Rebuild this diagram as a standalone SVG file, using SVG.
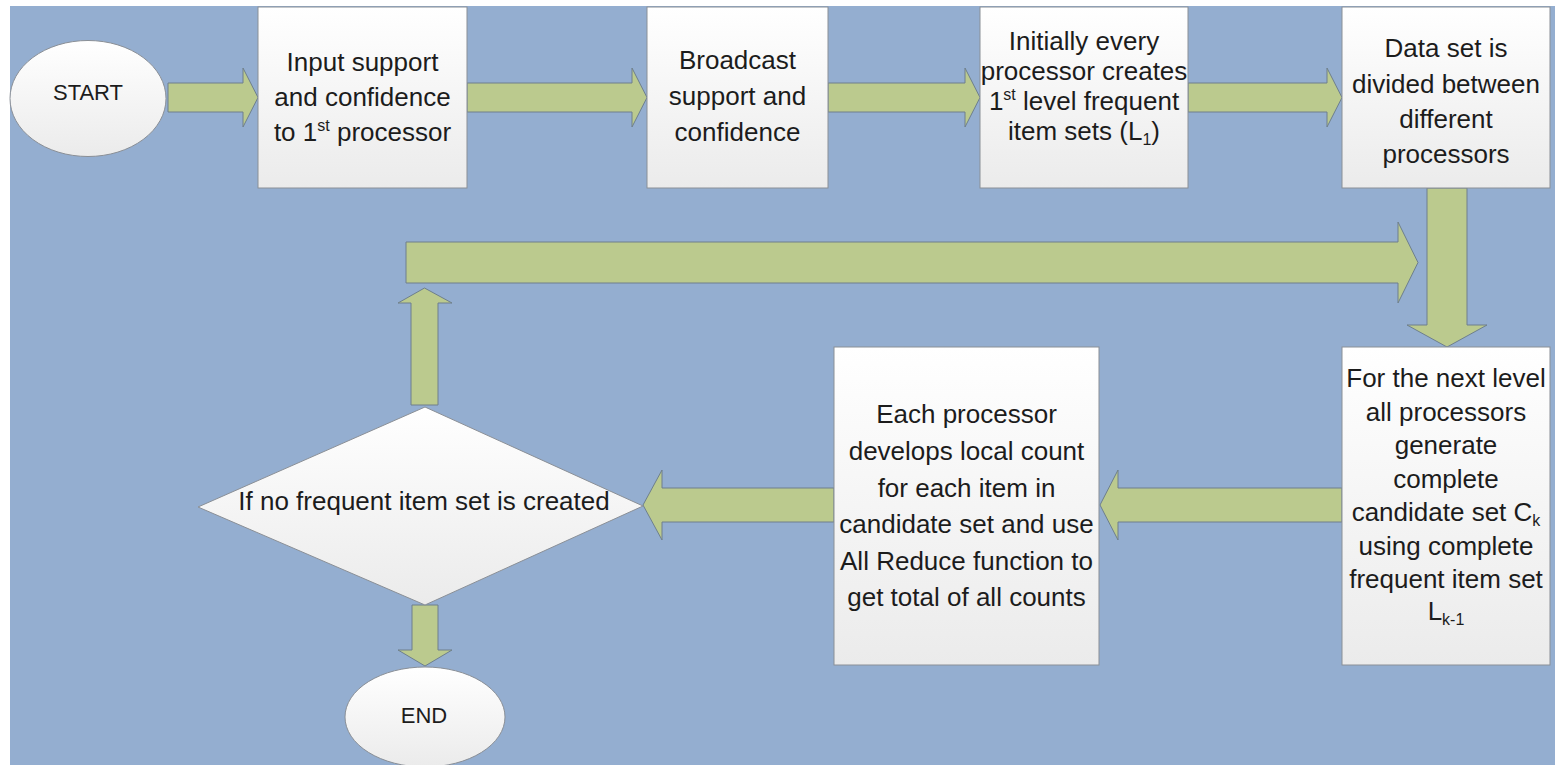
<svg xmlns="http://www.w3.org/2000/svg" width="1555" height="765" viewBox="0 0 1555 765">
<style>
.box{fill:url(#boxg);stroke:#8a8f96;stroke-width:1}
.term{fill:url(#boxg);stroke:#8a8f96;stroke-width:1}
.arr{fill:#bbca8e;stroke:#6e7f8c;stroke-width:1;stroke-linejoin:miter}
.t{font-family:"Liberation Sans",Arial,sans-serif;font-size:26px;fill:#1c1c1c;text-anchor:middle}
.sm{font-size:16px}
</style>
<defs>
<linearGradient id="boxg" x1="0" y1="0" x2="0" y2="1">
<stop offset="0" stop-color="#ffffff"/>
<stop offset="1" stop-color="#ebebeb"/>
</linearGradient>
</defs>
<rect x="0" y="0" width="1555" height="765" fill="#ffffff"/>
<rect x="10" y="6" width="1545" height="759" fill="#94aed0"/>

<g id="connectors">
<path class="arr" d="M168 83 L243 83 L243 68 L258 97.5 L243 127 L243 112 L168 112 Z"/>
<path class="arr" d="M467 83 L632 83 L632 68 L647 97.5 L632 127 L632 112 L467 112 Z"/>
<path class="arr" d="M828 83 L965 83 L965 68 L980 97.5 L965 127 L965 112 L828 112 Z"/>
<path class="arr" d="M1188 83 L1327 83 L1327 68 L1342 97.5 L1327 127 L1327 112 L1188 112 Z"/>
<path class="arr" d="M1427 188 L1467 188 L1467 325 L1487 325 L1447 347 L1407 325 L1427 325 Z"/>
<path class="arr" d="M1342 488 L1118 488 L1118 470 L1100 505 L1118 540 L1118 522 L1342 522 Z"/>
<path class="arr" d="M834 488 L662 488 L662 470 L643 505 L662 540 L662 522 L834 522 Z"/>
<path class="arr" d="M411 405 L411 303 L398 303 L424.5 288 L452 303 L438 303 L438 405 Z"/>
<path class="arr" d="M406 242 L1398 242 L1398 222 L1418 262.5 L1398 303 L1398 283 L406 283 Z"/>
<path class="arr" d="M412 605 L438 605 L438 650 L452 650 L425 666 L398 650 L412 650 Z"/>
</g>

<g id="start">
<ellipse class="term" cx="88" cy="98.5" rx="78" ry="58"/>
<text class="t" x="88" y="100" style="font-size:22px">START</text>
</g>

<g id="input">
<rect class="box" x="258" y="7" width="209" height="181"/>
<text class="t" x="362.5" y="71">Input support</text>
<text class="t" x="362.5" y="106">and confidence</text>
<text class="t" x="362.5" y="141">to 1<tspan class="sm" dy="-10">st</tspan><tspan dy="10"> processor</tspan></text>
</g>

<g id="broadcast">
<rect class="box" x="647" y="7" width="181" height="181"/>
<text class="t" x="737.5" y="69">Broadcast</text>
<text class="t" x="737.5" y="105">support and</text>
<text class="t" x="737.5" y="141">confidence</text>
</g>

<g id="initial">
<rect class="box" x="980" y="7" width="208" height="181"/>
<text class="t" x="1084" y="50">Initially every</text>
<text class="t" x="1084" y="80">processor creates</text>
<text class="t" x="1084" y="110">1<tspan class="sm" dy="-10">st</tspan><tspan dy="10"> level frequent</tspan></text>
<text class="t" x="1084" y="140">item sets (L<tspan class="sm" dy="5">1</tspan><tspan dy="-5">)</tspan></text>
</g>

<g id="divide">
<rect class="box" x="1342" y="7" width="208" height="181"/>
<text class="t" x="1446" y="57">Data set is</text>
<text class="t" x="1446" y="93">divided between</text>
<text class="t" x="1446" y="128">different</text>
<text class="t" x="1446" y="163">processors</text>
</g>

<g id="nextlevel">
<rect class="box" x="1342" y="347" width="208" height="318"/>
<text class="t" x="1446" y="387">For the next level</text>
<text class="t" x="1446" y="420.5">all processors</text>
<text class="t" x="1446" y="454">generate</text>
<text class="t" x="1446" y="487.5">complete</text>
<text class="t" x="1446" y="521">candidate set C<tspan class="sm" dy="5">k</tspan></text>
<text class="t" x="1446" y="554.5">using complete</text>
<text class="t" x="1446" y="588">frequent item set</text>
<text class="t" x="1446" y="620">L<tspan class="sm" dy="5">k-1</tspan></text>
</g>

<g id="localcount">
<rect class="box" x="834" y="347" width="265" height="318"/>
<text class="t" x="966.5" y="423">Each processor</text>
<text class="t" x="966.5" y="460">develops local count</text>
<text class="t" x="966.5" y="497">for each item in</text>
<text class="t" x="966.5" y="533">candidate set and use</text>
<text class="t" x="966.5" y="570">All Reduce function to</text>
<text class="t" x="966.5" y="606">get total of all counts</text>
</g>

<g id="decision">
<polygon class="box" points="425,407 643,506 425,605 198,507"/>
<text class="t" x="424" y="510">If no frequent item set is created</text>
</g>

<g id="end">
<ellipse class="term" cx="425" cy="717" rx="80" ry="50"/>
<text class="t" x="424" y="723" style="font-size:22px">END</text>
</g>
</svg>
